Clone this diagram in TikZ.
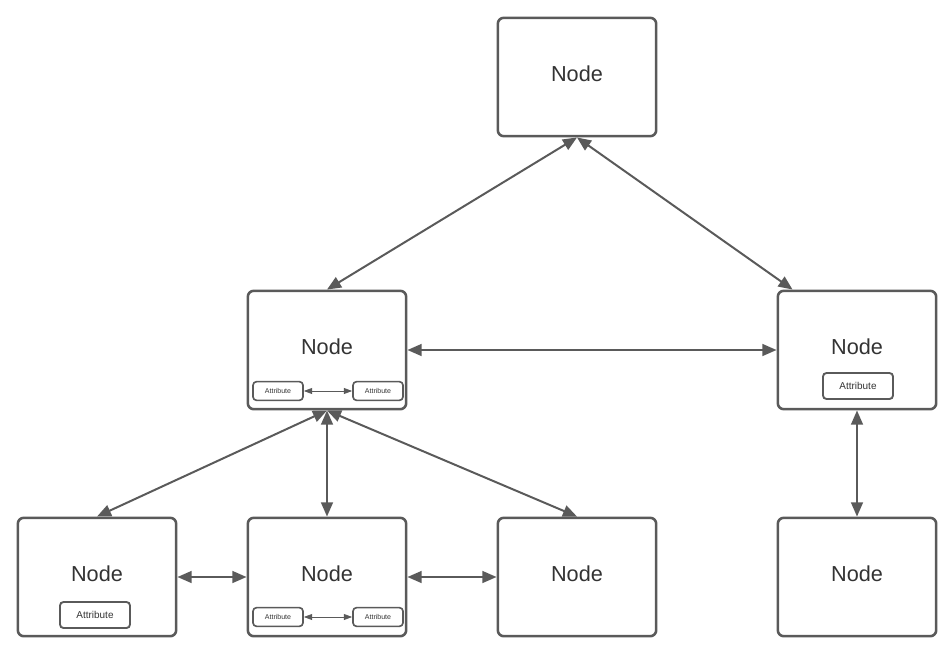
\documentclass[tikz,border=0pt]{standalone}
\usepackage{fontspec}
\setmainfont{Liberation Sans}
\usetikzlibrary{arrows.meta}
\definecolor{linegray}{HTML}{5A5A5A}
\definecolor{textgray}{HTML}{333333}

\begin{document}
\begin{tikzpicture}[x=0.03cm,y=-0.03cm,
  >={Triangle[length=12pt,width=10pt]},
  box/.style={draw=linegray,line width=2.2pt,rounded corners=5pt,
    minimum width=4.75cm,minimum height=3.55cm,text=textgray,
    text depth=5pt,font=\fontsize{18.5}{22}\selectfont},
  attr/.style={draw=linegray,line width=1.6pt,rounded corners=3pt,
    minimum width=2.1cm,minimum height=0.78cm,text=textgray,
    font=\fontsize{8.5}{10}\selectfont},
  attrsmall/.style={attr,minimum width=1.5cm,minimum height=0.56cm,
    line width=1.4pt,font=\fontsize{6}{7}\selectfont},
  link/.style={<->,draw=linegray,line width=1.7pt},
  linksmall/.style={{Triangle[length=7pt,width=5pt]}-{Triangle[length=7pt,width=5pt]},
    draw=linegray,line width=0.7pt}
]

\useasboundingbox (0,0) rectangle (950,665);

% Knoten
\node[box] (top)  at (577,77)  {Node};
\node[box] (midL) at (327,350) {Node};
\node[box] (midR) at (857,350) {Node};
\node[box] (botA) at (97,577)  {Node};
\node[box] (botB) at (327,577) {Node};
\node[box] (botC) at (577,577) {Node};
\node[box] (botD) at (857,577) {Node};

% Attribute
\node[attrsmall] (midLa) at (278,391) {Attribute};
\node[attrsmall] (midLb) at (378,391) {Attribute};
\node[attrsmall] (botBa) at (278,617) {Attribute};
\node[attrsmall] (botBb) at (378,617) {Attribute};
\node[attr] (midRa) at (858,386) {Attribute};
\node[attr] (botAa) at (95,615)  {Attribute};

\coordinate (midRin) at ([xshift=0.48cm]midR.north west);

% Verbindungen
\draw[link] (top.south) -- (midL.north);
\draw[link] (top.south) -- (midRin);
\draw[link] (midL.east) -- (midR.west);
\draw[link] (midR.south) -- (botD.north);
\draw[link] (midL.south) -- (botA.north);
\draw[link] (midL.south) -- (botB.north);
\draw[link] (midL.south) -- (botC.north);
\draw[link] (botA.east) -- (botB.west);
\draw[link] (botB.east) -- (botC.west);

% Verbindungen der Attribute
\draw[linksmall] (midLa.east) -- (midLb.west);
\draw[linksmall] (botBa.east) -- (botBb.west);

\end{tikzpicture}
\end{document}
